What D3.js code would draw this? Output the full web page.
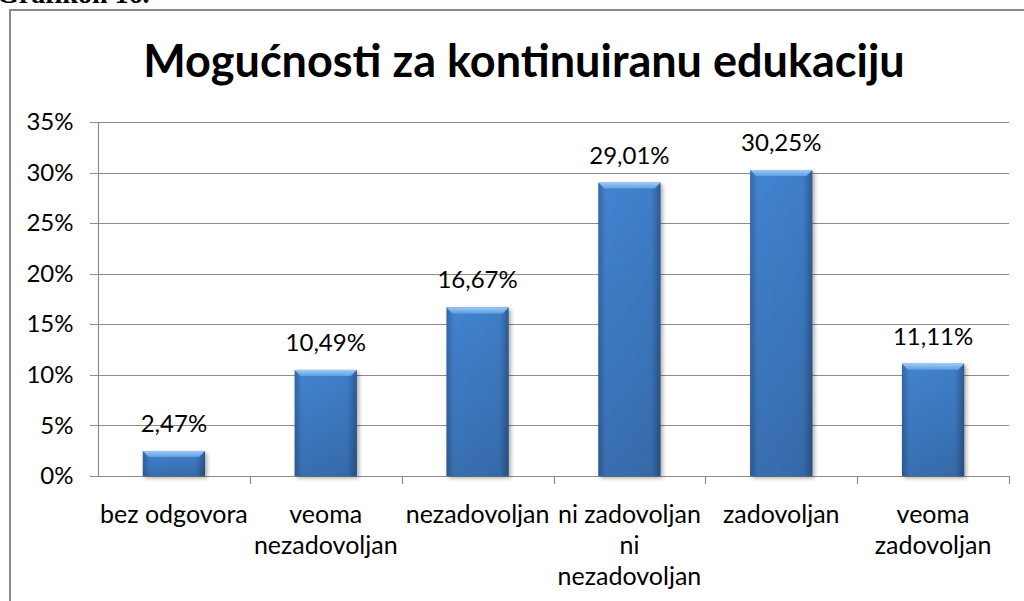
<!DOCTYPE html>
<html>
<head>
<meta charset="utf-8">
<script src="https://cdn.jsdelivr.net/npm/d3@7"></script>
<style>
    body { margin: 0; background: #fff; overflow: hidden; }
    svg { display: block; }
</style>
</head>
<body>
<div id="chart"></div>
<script>
const categories = ['bez odgovora', 'veoma nezadovoljan', 'nezadovoljan', 'ni zadovoljan ni nezadovoljan', 'zadovoljan', 'veoma zadovoljan'];
const categoryLines = [
    ['bez odgovora'],
    ['veoma', 'nezadovoljan'],
    ['nezadovoljan'],
    ['ni zadovoljan', 'ni', 'nezadovoljan'],
    ['zadovoljan'],
    ['veoma', 'zadovoljan']
];
const values = [2.47, 10.49, 16.67, 29.01, 30.25, 11.11];
const valueLabels = ['2,47%', '10,49%', '16,67%', '29,01%', '30,25%', '11,11%'];
const yTicks = [0, 5, 10, 15, 20, 25, 30, 35];

const W = 1024, H = 601;
const plot = {left: 98, right: 1009, top: 122, bottom: 476};
const font = 'Lato, "Open Sans", sans-serif';

const svg = d3.select('#chart').append('svg')
    .attr('width', W)
    .attr('height', H);

const defs = svg.append('defs');

// horizontal shading of the bar body
const body = defs.append('linearGradient').attr('id', 'barBody')
    .attr('x1', 0).attr('x2', 1).attr('y1', 0).attr('y2', 0);
body.append('stop').attr('offset', 0).attr('stop-color', '#3466a6');
body.append('stop').attr('offset', 0.12).attr('stop-color', '#4283d0');
body.append('stop').attr('offset', 0.85).attr('stop-color', '#3f7ec9');
body.append('stop').attr('offset', 1).attr('stop-color', '#2d5a94');

// darker towards the bottom
const shade = defs.append('linearGradient').attr('id', 'barShade')
    .attr('x1', 0).attr('x2', 0).attr('y1', 0).attr('y2', 1);
shade.append('stop').attr('offset', 0).attr('stop-color', '#000').attr('stop-opacity', 0);
shade.append('stop').attr('offset', 1).attr('stop-color', '#000').attr('stop-opacity', 0.16);

const bevel = defs.append('linearGradient').attr('id', 'barBevel')
    .attr('x1', 0).attr('x2', 0).attr('y1', 0).attr('y2', 1);
bevel.append('stop').attr('offset', 0).attr('stop-color', '#9ccaf6');
bevel.append('stop').attr('offset', 1).attr('stop-color', '#5f9fe2');

const blur = defs.append('filter').attr('id', 'shadow')
    .attr('x', -0.2).attr('y', -0.2).attr('width', 1.4).attr('height', 1.4);
blur.append('feGaussianBlur').attr('stdDeviation', 2);

// caption cut off at the top of the page
svg.append('text')
    .attr('x', -3)
    .attr('y', 3)
    .attr('font-family', '"Liberation Serif", serif')
    .attr('font-weight', 'bold')
    .attr('font-size', 28)
    .attr('fill', '#000')
    .text('Grafikon 16.');

// chart frame
svg.append('rect')
    .attr('x', 10).attr('y', 10)
    .attr('width', 1040).attr('height', 620)
    .attr('fill', '#fff')
    .attr('stroke', '#8a8a8a')
    .attr('stroke-width', 2);

svg.append('text')
    .attr('x', 524)
    .attr('y', 77)
    .attr('text-anchor', 'middle')
    .attr('font-family', font)
    .attr('font-weight', 'bold')
    .attr('font-size', 45)
    .attr('fill', '#000')
    .text('Mogućnosti za kontinuiranu edukaciju');

const x = d3.scaleBand()
    .domain(categories)
    .range([plot.left, plot.right])
    .paddingInner(0.59)
    .paddingOuter(0.295);

const xb = d3.scaleBand()
    .domain(categories)
    .range([plot.left, plot.right]);

const y = d3.scaleLinear()
    .domain([0, 35])
    .range([plot.bottom, plot.top]);

// gridlines
svg.append('g')
    .selectAll('line')
    .data(yTicks)
    .join('line')
    .attr('x1', plot.left - 8)
    .attr('x2', plot.right)
    .attr('y1', d => Math.round(y(d)) + 0.5)
    .attr('y2', d => Math.round(y(d)) + 0.5)
    .attr('stroke', '#8c8c8c')
    .attr('stroke-width', 1.2);

// y axis
const yAxis = svg.append('g')
    .attr('transform', `translate(${plot.left + 0.5}, 0)`)
    .call(d3.axisLeft(y).tickValues(yTicks).tickSize(0).tickPadding(25).tickFormat(d => d + '%'));
yAxis.select('.domain').attr('stroke', '#8c8c8c').attr('stroke-width', 1.2)
    .attr('d', `M0,${plot.top}V${plot.bottom + 1}`);
yAxis.selectAll('text')
    .attr('font-family', font)
    .attr('font-size', 24)
    .attr('fill', '#000');

// x axis tick marks at band edges
const bounds = categories.map(c => xb(c)).concat([plot.right]);
svg.append('g')
    .selectAll('line')
    .data(bounds.slice(1))
    .join('line')
    .attr('x1', d => Math.round(d) + 0.5)
    .attr('x2', d => Math.round(d) + 0.5)
    .attr('y1', plot.bottom)
    .attr('y2', plot.bottom + 8)
    .attr('stroke', '#8c8c8c')
    .attr('stroke-width', 1.2);

// bars
const bars = svg.append('g')
    .selectAll('g')
    .data(values)
    .join('g');

bars.append('rect')
    .attr('x', (d, i) => x(categories[i]) + 2)
    .attr('y', d => y(d) + 2)
    .attr('width', x.bandwidth())
    .attr('height', d => plot.bottom - y(d))
    .attr('fill', '#000')
    .attr('opacity', 0.35)
    .attr('filter', 'url(#shadow)');

bars.append('rect')
    .attr('x', (d, i) => x(categories[i]))
    .attr('y', d => y(d))
    .attr('width', x.bandwidth())
    .attr('height', d => plot.bottom - y(d))
    .attr('fill', 'url(#barBody)');

bars.append('rect')
    .attr('x', (d, i) => x(categories[i]))
    .attr('y', d => y(d))
    .attr('width', x.bandwidth())
    .attr('height', d => plot.bottom - y(d))
    .attr('fill', 'url(#barShade)');

bars.append('path')
    .attr('d', (d, i) => {
        const x0 = x(categories[i]), x1 = x0 + x.bandwidth(), t = y(d), b = 6;
        return `M${x0},${t}L${x1},${t}L${x1 - b},${t + b}L${x0 + b},${t + b}Z`;
    })
    .attr('fill', 'url(#barBevel)');

// value labels
svg.append('g')
    .selectAll('text')
    .data(values)
    .join('text')
    .attr('x', (d, i) => x(categories[i]) + x.bandwidth() / 2)
    .attr('y', d => y(d) - 19)
    .attr('text-anchor', 'middle')
    .attr('font-family', font)
    .attr('font-size', 24)
    .attr('fill', '#000')
    .text((d, i) => valueLabels[i]);

// category labels
const catLabels = svg.append('g')
    .selectAll('text')
    .data(categories)
    .join('text')
    .attr('x', d => xb(d) + xb.bandwidth() / 2)
    .attr('y', 523)
    .attr('text-anchor', 'middle')
    .attr('font-family', font)
    .attr('font-size', 25)
    .attr('fill', '#000');

catLabels.selectAll('tspan')
    .data((d, i) => categoryLines[i])
    .join('tspan')
    .attr('x', function() { return this.parentNode.getAttribute('x'); })
    .attr('dy', (d, j) => j === 0 ? 0 : 31)
    .text(d => d);
</script>
</body>
</html>
